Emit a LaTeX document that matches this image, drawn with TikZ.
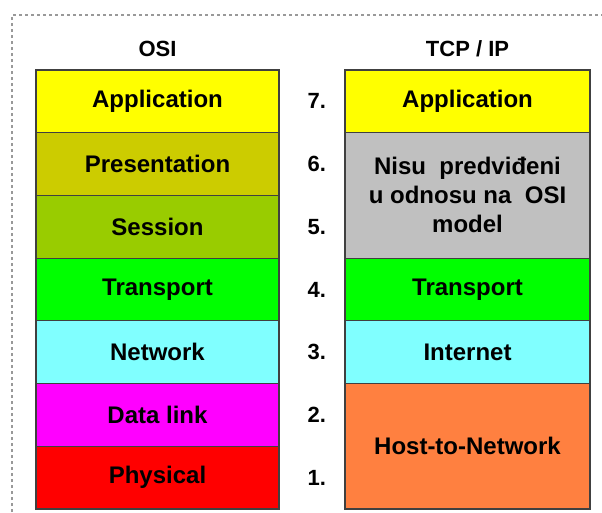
\documentclass[tikz,border=0pt]{standalone}
\usepackage{fontspec}
\setmainfont{Liberation Sans}
\usetikzlibrary{positioning,calc}
\definecolor{appyellow}{HTML}{FFFF00}
\definecolor{presyellow}{HTML}{CCCC00}
\definecolor{sessgreen}{HTML}{99CC00}
\definecolor{transgreen}{HTML}{00FF00}
\definecolor{netcyan}{HTML}{80FFFF}
\definecolor{linkmagenta}{HTML}{FF00FF}
\definecolor{physred}{HTML}{FF0000}
\definecolor{nonegray}{HTML}{C0C0C0}
\definecolor{hostorange}{HTML}{FF8040}
\tikzset{
layer/.style = {draw=black!75, line width=1.2pt, rectangle, minimum width=243pt, minimum height=62.7pt, inner sep=0pt, outer sep=0pt, font=\fontsize{24}{29}\selectfont\bfseries},
tcplayer/.style = {layer, minimum width=245pt},
title/.style = {font=\fontsize{22}{29}\selectfont\bfseries},
num/.style = {anchor=west, font=\fontsize{22}{29}\selectfont\bfseries},
frame/.style = {draw=gray!80, line width=2pt, dash pattern=on 3pt off 3pt}
}
\begin{document}
\begin{tikzpicture}[x=1pt, y=-1pt, node distance=0pt]
    \useasboundingbox (0,0) rectangle (602,512);
    \draw [frame] (12,512) -- (12,15) -- (602,15);

    % OSI
    \node [layer, fill=appyellow, anchor=north west] (osi7) at (36,70) {Application};
    \node [layer, fill=presyellow, below=of osi7] (osi6) {Presentation};
    \node [layer, fill=sessgreen, below=of osi6] (osi5) {Session};
    \node [layer, fill=transgreen, below=of osi5] (osi4) {Transport};
    \node [layer, fill=netcyan, below=of osi4] (osi3) {Network};
    \node [layer, fill=linkmagenta, below=of osi3] (osi2) {Data link};
    \node [layer, fill=physred, below=of osi2] (osi1) {Physical};
    \node [title, above=10pt of osi7] (osititle) {OSI};

    % TCP/IP
    \node [tcplayer, fill=appyellow, anchor=north west] (tcp4) at (345,70) {Application};
    \node [tcplayer, fill=nonegray, minimum height=125.4pt, align=center, below=of tcp4] (tcp3) {Nisu\ \ predviđeni\\u odnosu na\ \ OSI\\model};
    \node [tcplayer, fill=transgreen, below=of tcp3] (tcp2) {Transport};
    \node [tcplayer, fill=netcyan, below=of tcp2] (tcp1) {Internet};
    \node [tcplayer, fill=hostorange, minimum height=125.4pt, below=of tcp1] (tcp0) {Host-to-Network};
    \node [title, above=10pt of tcp4] (tcptitle) {TCP / IP};

    \foreach \i in {1,...,7}
        \node [num, right=25pt of osi\i] (n\i) {\i.};
\end{tikzpicture}
\end{document}
